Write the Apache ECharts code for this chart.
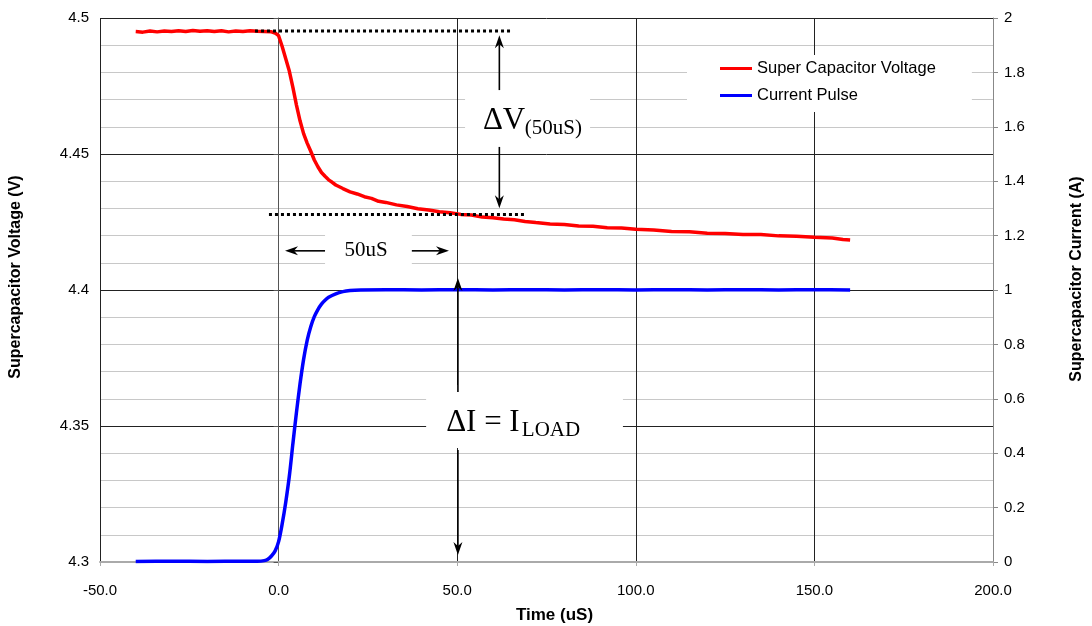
<!DOCTYPE html>
<html>
<head>
<meta charset="utf-8">
<script src="https://cdn.jsdelivr.net/npm/echarts@6.0.0/dist/echarts.min.js"></script>
<style>
  html, body { margin: 0; padding: 0; background: #fff; }
  #chart { width: 1092px; height: 626px; }
</style>
</head>
<body>
<div id="chart"></div>
<script>
// Time axis (uS) and axis ranges
const timeTicks = [-50, 0, 50, 100, 150, 200];
const voltTicks = [4.3, 4.35, 4.4, 4.45, 4.5];
const currTicks = [0, 0.2, 0.4, 0.6, 0.8, 1, 1.2, 1.4, 1.6, 1.8, 2];

// Super capacitor voltage trace: [time uS, volts]
const voltageTime = [
  -40, -38, -36, -34, -32, -30, -28, -26, -24, -22, -20, -18, -16, -14, -12, -10, -8, -6, -4, -2,
  -1, 0, 1, 2, 3, 4, 5, 6, 7, 8, 9, 10, 11, 12, 13, 14, 15, 16, 18, 20,
  22, 24, 26, 28, 30, 33, 36, 39, 42, 45, 48, 51, 54, 57, 60, 63, 66, 69, 72, 76,
  80, 84, 88, 92, 96, 100, 105, 110, 115, 120, 125, 130, 135, 140, 145, 150, 155, 158, 160
];
const voltageValue = [
  4.4950, 4.4948, 4.4952, 4.4949, 4.4952, 4.4950, 4.4953, 4.4950, 4.4954, 4.4951, 4.4953, 4.4950, 4.4953, 4.4949, 4.4952, 4.4950, 4.4953, 4.4951, 4.4950, 4.4949,
  4.4945, 4.4935, 4.4895, 4.4850, 4.4805, 4.4745, 4.4680, 4.4622, 4.4575, 4.4540, 4.4510, 4.4478, 4.4453, 4.4432, 4.4418, 4.4405, 4.4396, 4.4386, 4.4373, 4.4361,
  4.4353, 4.4343, 4.4337, 4.4326, 4.4322, 4.4313, 4.4307, 4.4299, 4.4294, 4.4288, 4.4284, 4.4278, 4.4276, 4.4268, 4.4266, 4.4261, 4.4258, 4.4252, 4.4248, 4.4243,
  4.4241, 4.4235, 4.4234, 4.4229, 4.4228, 4.4223, 4.4221, 4.4215, 4.4214, 4.4209, 4.4208, 4.4204, 4.4204, 4.4199, 4.4198, 4.4194, 4.4191, 4.4186, 4.4184
];

// Current pulse trace: [time uS, amps]
const currentTime = [
  -40, -30, -20, -10, -6, -4, -3, -2, -1, 0, 1, 2, 3, 4, 5, 6, 7, 8, 9, 10,
  11, 12, 13, 14, 16, 18, 20, 23, 30, 40, 50, 60, 70, 80, 90, 100, 110, 120, 130, 140, 150, 160
];
const currentValue = [
  0.002, 0.003, 0.002, 0.003, 0.003, 0.005, 0.010, 0.022, 0.040, 0.075, 0.140, 0.220, 0.315, 0.435, 0.550, 0.655, 0.745, 0.815, 0.865, 0.902,
  0.928, 0.948, 0.962, 0.973, 0.986, 0.994, 0.998, 1.000, 1.001, 1.000, 1.001, 1.000, 1.001, 1.000, 1.001, 1.000, 1.001, 1.000, 1.001, 1.000, 1.001, 1.000
];

const seriesNames = ['Super Capacitor Voltage', 'Current Pulse'];

// Annotation levels (volts)
const vStart = 4.4952;
const v50 = 4.4278;

const SANS = '"Liberation Sans", Arial, sans-serif';
const SERIF = '"Liberation Serif", "Times New Roman", serif';

const zip = (xs, ys) => xs.map((x, i) => [x, ys[i]]);

const chart = echarts.init(document.getElementById('chart'), null, { renderer: 'canvas' });

chart.setOption({
  animation: false,
  backgroundColor: '#fff',
  grid: { left: 100, right: 99, top: 18, bottom: 64, containLabel: false, outerBoundsMode: 'none' },
  legend: {
    left: 687, top: 55, orient: 'vertical',
    backgroundColor: '#fff',
    padding: [5, 36, 8, 33],
    icon: 'rect',
    itemWidth: 32, itemHeight: 3, itemGap: 10,
    textStyle: { fontFamily: SANS, fontSize: 16.5, color: '#000', lineHeight: 17 },
    data: seriesNames
  },
  xAxis: {
    type: 'value',
    min: timeTicks[0], max: timeTicks[timeTicks.length - 1], interval: 50,
    name: 'Time (uS)', nameLocation: 'middle', nameGap: 45,
    nameTextStyle: { fontFamily: SANS, fontSize: 17, fontWeight: 'bold', color: '#000', padding: [0, 0, 0, 16] },
    axisLine: { onZero: false, lineStyle: { color: '#aaa', width: 2 } },
    axisTick: { show: true, length: 4, lineStyle: { color: '#aaa' } },
    axisLabel: { margin: 21, fontFamily: SANS, fontSize: 15, color: '#000', formatter: v => v.toFixed(1) },
    splitLine: { show: true, lineStyle: { color: '#222', width: 1 } }
  },
  yAxis: [
    {
      type: 'value', position: 'left',
      min: voltTicks[0], max: voltTicks[voltTicks.length - 1], interval: 0.05,
      name: 'Supercapacitor Voltage (V)', nameLocation: 'middle', nameGap: 76, nameRotate: 90,
      nameTextStyle: { fontFamily: SANS, fontSize: 16, fontWeight: 'bold', color: '#000', padding: [0, 0, 0, 26] },
      axisLine: { show: true, lineStyle: { color: '#555', width: 1 } },
      axisTick: { show: true, length: 5, lineStyle: { color: '#555' } },
      axisLabel: { margin: 11, fontFamily: SANS, fontSize: 15, color: '#000',
        formatter: v => String(Math.round(v * 100) / 100) },
      splitLine: { show: true, lineStyle: { color: '#222', width: 1 } },
      minorTick: { show: false, splitNumber: 5 },
      minorSplitLine: { show: true, lineStyle: { color: '#c8c8c8', width: 1.2 } }
    },
    {
      type: 'value', position: 'right',
      min: currTicks[0], max: currTicks[currTicks.length - 1], interval: 0.2,
      name: 'Supercapacitor Current (A)', nameLocation: 'middle', nameGap: 76, nameRotate: 90,
      nameTextStyle: { fontFamily: SANS, fontSize: 16, fontWeight: 'bold', color: '#000', padding: [0, 0, 0, 22] },
      axisLine: { show: true, lineStyle: { color: '#888', width: 1 } },
      axisTick: { show: true, length: 5, lineStyle: { color: '#888' } },
      axisLabel: { margin: 11, fontFamily: SANS, fontSize: 15, color: '#000',
        formatter: v => String(Math.round(v * 10) / 10) },
      splitLine: { show: false }
    }
  ],
  series: [
    {
      name: seriesNames[0], type: 'line', yAxisIndex: 0,
      data: zip(voltageTime, voltageValue),
      symbol: 'none', smooth: false,
      lineStyle: { color: '#ff0000', width: 3.5 },
      itemStyle: { color: '#ff0000' }, z: 3
    },
    {
      name: seriesNames[1], type: 'line', yAxisIndex: 1,
      data: zip(currentTime, currentValue),
      symbol: 'none', smooth: 0.3,
      lineStyle: { color: '#0000ff', width: 3.5 },
      itemStyle: { color: '#0000ff' }, z: 3
    }
  ]
});

// ---- Annotations, placed in data units and converted to pixels ----
const pv = (t, v) => chart.convertToPixel({ xAxisIndex: 0, yAxisIndex: 0 }, [t, v]);
const pi = (t, a) => chart.convertToPixel({ xAxisIndex: 0, yAxisIndex: 1 }, [t, a]);

function whiteBox(p1, p2) {
  return {
    type: 'rect', z: 50, silent: true,
    shape: { x: Math.min(p1[0], p2[0]), y: Math.min(p1[1], p2[1]),
             width: Math.abs(p2[0] - p1[0]), height: Math.abs(p2[1] - p1[1]) },
    style: { fill: '#fff' }
  };
}
function dotted(p1, p2) {
  return {
    type: 'line', z: 60, silent: true,
    shape: { x1: p1[0], y1: p1[1], x2: p2[0], y2: p2[1] },
    style: { stroke: '#000', lineWidth: 3, lineDash: [3, 3] }
  };
}
function arrow(tail, tip) {
  const dx = tip[0] - tail[0], dy = tip[1] - tail[1];
  const len = Math.hypot(dx, dy), ux = dx / len, uy = dy / len;
  const nx = -uy, ny = ux;
  const hl = 13, hw = 4.5, notch = 9;
  const back = [tip[0] - ux * hl, tip[1] - uy * hl];
  return [
    { type: 'line', z: 60, silent: true,
      shape: { x1: tail[0], y1: tail[1], x2: tip[0] - ux * notch, y2: tip[1] - uy * notch },
      style: { stroke: '#000', lineWidth: 1.6 } },
    { type: 'polygon', z: 61, silent: true,
      shape: { points: [tip, [back[0] + nx * hw, back[1] + ny * hw],
        [tip[0] - ux * notch, tip[1] - uy * notch], [back[0] - nx * hw, back[1] - ny * hw]] },
      style: { fill: '#000' } }
  ];
}
function label(text, p, size, align, dy) {
  return {
    type: 'text', z: 70, silent: true,
    x: p[0], y: p[1] - size * 0.34 + (dy || 0),
    style: { text, fill: '#000', font: size + 'px ' + SERIF, align: align || 'left', verticalAlign: 'middle' }
  };
}

const g = [];
// blanked panels behind the annotation texts
g.push(whiteBox(pv(52.2, 4.4772), pv(87.2, 4.4529)));
g.push(whiteBox(pv(13.0, 4.4228), pv(37.3, 4.4066)));
g.push(whiteBox(pi(41.3, 0.651), pi(96.4, 0.419)));
// reference levels
g.push(dotted(pv(-6.6, vStart), pv(65.3, vStart)));
g.push(dotted(pv(-2.7, v50), pv(69.5, v50)));
// delta-V arrows
g.push(...arrow(pv(61.8, 4.4735), pv(61.8, 4.4937)));
g.push(...arrow(pv(61.8, 4.4526), pv(61.8, 4.4301)));
// 50 uS span arrows
g.push(...arrow(pv(13.0, 4.4144), pv(1.8, 4.4144)));
g.push(...arrow(pv(37.3, 4.4144), pv(47.7, 4.4144)));
// delta-I arrows
g.push(...arrow(pi(50.2, 0.625), pi(50.2, 1.044)));
g.push(...arrow(pi(50.2, 0.412), pi(50.2, 0.026)));
// texts
g.push(label('\u0394V', pv(57.2, 4.4583), 31));
g.push(label('(50uS)', pv(68.9, 4.4566), 21));
g.push(label('50uS', pv(24.5, 4.4118), 21, 'center'));
g.push(label('\u0394I = I', pi(46.9, 0.4729), 31));
g.push(label('LOAD', pi(68.1, 0.457), 21));

chart.setOption({ graphic: g });
</script>
</body>
</html>
